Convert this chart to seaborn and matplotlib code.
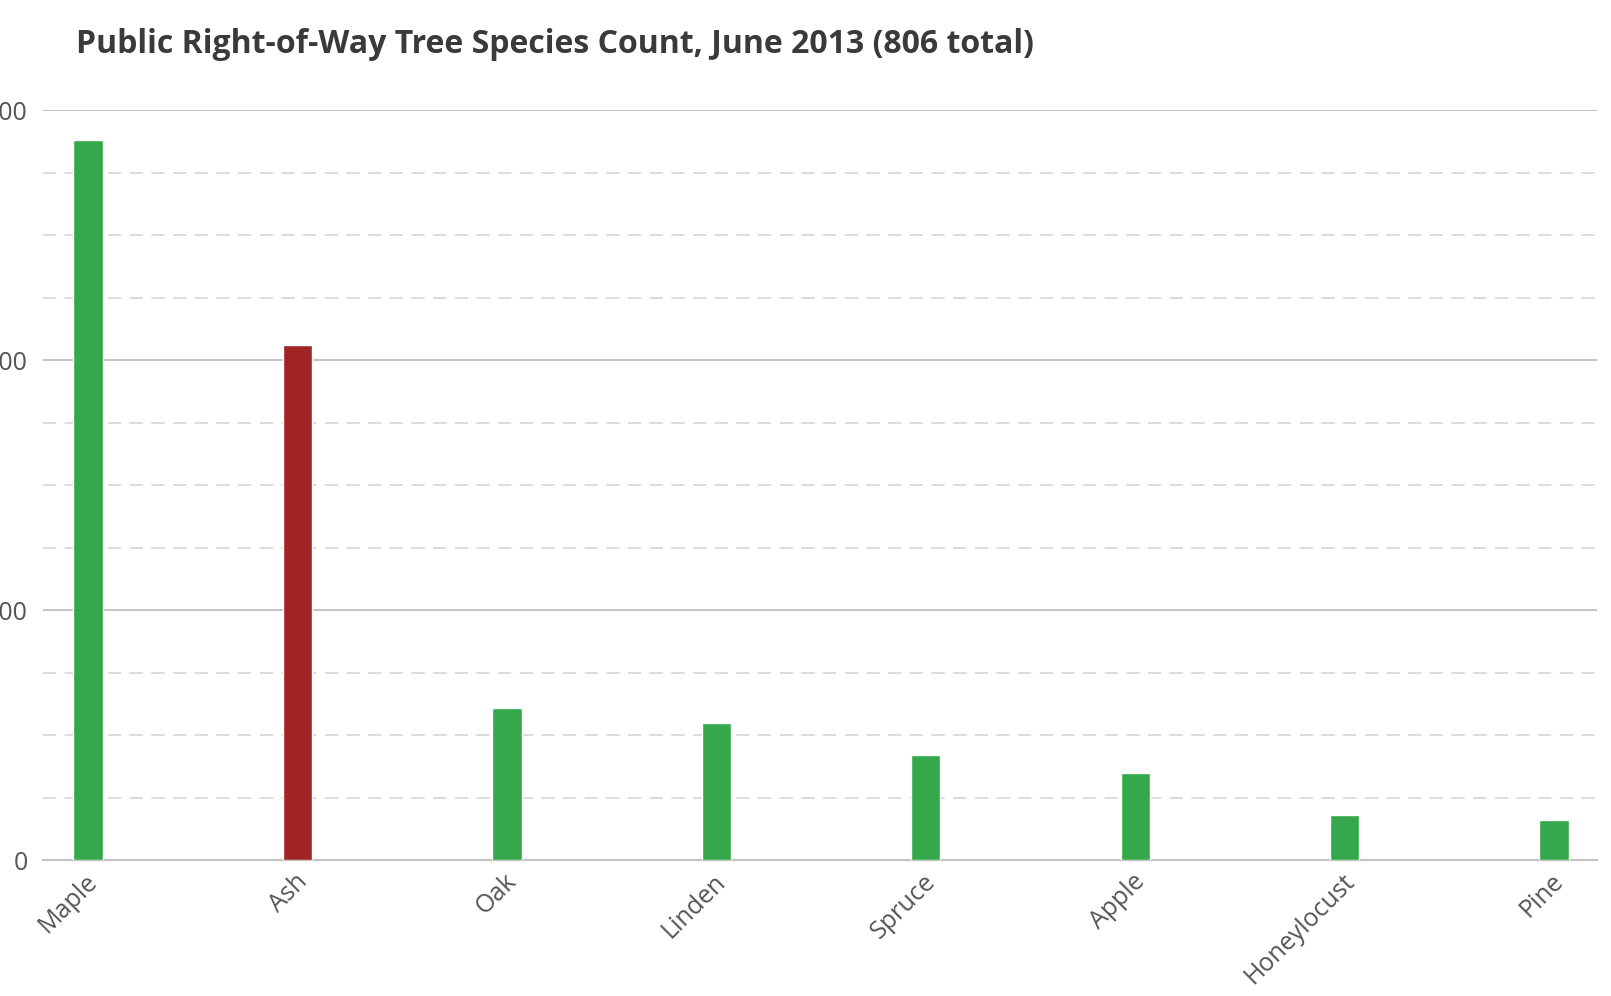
import matplotlib
matplotlib.use("Agg")
import matplotlib.pyplot as plt
import matplotlib.transforms as mtransforms
from matplotlib.ticker import MultipleLocator
import seaborn as sns
import pandas as pd

# data
species = ["Maple", "Ash", "Oak", "Linden", "Spruce", "Apple", "Honeylocust", "Pine"]
counts = [288, 206, 61, 55, 42, 35, 18, 16]
bar_colors = ["#34a84a", "#a02424", "#34a84a", "#34a84a", "#34a84a", "#34a84a", "#34a84a", "#34a84a"]
title = "Public Right-of-Way Tree Species Count, June 2013 (806 total)"

df = pd.DataFrame({"species": species, "count": counts})

sns.set_style("white")
plt.rcParams["font.family"] = ["Open Sans", "DejaVu Sans"]

fig = plt.figure(figsize=(16.11, 9.96), dpi=100)
ax = fig.add_axes([0.0267, 0.1365, 0.9646, 0.753])

sns.barplot(data=df, x="species", y="count", hue="species", palette=bar_colors,
            width=0.14, saturation=1, legend=False, ax=ax, zorder=3)

ax.set_xlim(-0.215, 7.205)
ax.set_ylim(0, 300)
ax.yaxis.set_major_locator(MultipleLocator(100))
ax.yaxis.set_minor_locator(MultipleLocator(25))
ax.grid(which="major", axis="y", color="#c4c4c4", linewidth=1.4, linestyle="-", zorder=0)
ax.grid(which="minor", axis="y", color="#d6d6d6", linewidth=1.2, linestyle=(0, (8, 5)), zorder=0)
ax.set_axisbelow(True)

for s in ["top", "right", "left"]:
    ax.spines[s].set_visible(False)
ax.spines["bottom"].set_color("#c4c4c4")
ax.spines["bottom"].set_linewidth(1.6)

ax.set_xlabel("")
ax.set_ylabel("")
ax.tick_params(axis="both", which="both", length=0)
ax.tick_params(axis="y", labelsize=18, labelcolor="#555555", pad=11)
ax.tick_params(axis="x", labelsize=18, labelcolor="#555555", pad=0)

# rotated labels ending just below-right of each tick
offset = mtransforms.ScaledTranslation(6 / 100, -18 / 100, fig.dpi_scale_trans)
for lab in ax.get_xticklabels():
    lab.set_rotation(45)
    lab.set_ha("right")
    lab.set_va("center")
    lab.set_rotation_mode("anchor")
    lab.set_transform(lab.get_transform() + offset)

fig.text(0.047, 0.955, title, fontsize=23, fontweight="bold", color="#3a3a3a",
         ha="left", va="center")

fig.savefig("out.png", dpi=100, facecolor="white")
